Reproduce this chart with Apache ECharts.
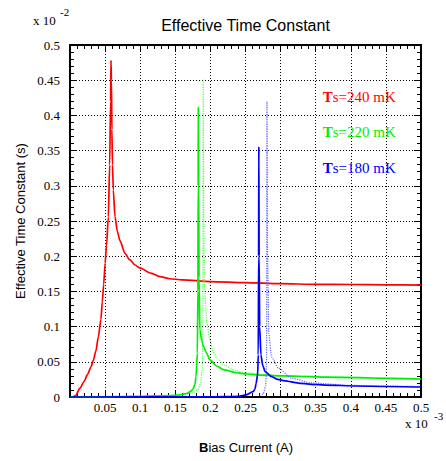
<!DOCTYPE html>
<html>
<head>
<meta charset="utf-8">
<script src="https://cdn.jsdelivr.net/npm/echarts@6/dist/echarts.min.js"></script>
<style>html,body{margin:0;padding:0;background:#fff;}#c{width:446px;height:461px;}</style>
</head>
<body>
<div id="c"></div>
<script>
// Tick values (x in 1e-3 A, y in 1e-2 s)
var xTicks = [0, 0.05, 0.1, 0.15, 0.2, 0.25, 0.3, 0.35, 0.4, 0.45, 0.5];
var yTicks = [0, 0.05, 0.1, 0.15, 0.2, 0.25, 0.3, 0.35, 0.4, 0.45, 0.5];

// Ts = 240 mK (solid red)
var ts240 = [[0.004,0],[0.008,0.002],[0.0142,0.0125],[0.02,0.022],[0.025,0.032],[0.03,0.043],[0.0332,0.052],[0.037,0.066],[0.0403,0.085],[0.044,0.11],[0.046,0.135],[0.048,0.16],[0.05,0.19],[0.052,0.215],[0.0546,0.256],[0.0565,0.33],[0.0578,0.42],[0.0584,0.478],[0.059,0.45],[0.0597,0.38],[0.0605,0.33],[0.0617,0.294],[0.0641,0.256],[0.0675,0.235],[0.0712,0.222],[0.0783,0.204],[0.085,0.195],[0.0926,0.1875],[0.1,0.183],[0.115,0.176],[0.128,0.171],[0.142,0.168],[0.16,0.1665],[0.2,0.164],[0.25,0.1625],[0.3,0.161],[0.35,0.16],[0.4,0.1598],[0.45,0.1592],[0.5,0.159]];

// Ts = 220 mK (solid and dotted green)
var ts220 = [[0,0],[0.05,0.0003],[0.08,0.0008],[0.1,0.001],[0.12,0.0015],[0.14,0.002],[0.157,0.003],[0.166,0.005],[0.172,0.008],[0.1757,0.012],[0.178,0.018],[0.1795,0.029],[0.1814,0.062],[0.1822,0.15],[0.1826,0.3],[0.1828,0.412],[0.1833,0.3],[0.1838,0.17],[0.185,0.095],[0.1876,0.081],[0.19,0.072],[0.1947,0.062],[0.1994,0.0526],[0.209,0.044],[0.2184,0.039],[0.2374,0.0345],[0.2517,0.0327],[0.275,0.031],[0.303,0.030],[0.342,0.0289],[0.363,0.0282],[0.408,0.0275],[0.45,0.0265],[0.5,0.0256]];
var ts220b = [[0.16,0.003],[0.175,0.006],[0.182,0.01],[0.186,0.02],[0.1885,0.04],[0.1893,0.1],[0.1897,0.45],[0.1905,0.25],[0.1918,0.15],[0.195,0.105],[0.199,0.082],[0.204,0.064],[0.21,0.054],[0.22,0.045],[0.235,0.038],[0.25,0.0345],[0.28,0.0318],[0.3,0.0306],[0.35,0.0292],[0.4,0.0281],[0.45,0.027],[0.5,0.026]];

// Ts = 180 mK (solid and dotted blue)
var ts180 = [[0,0],[0.2,0.0003],[0.24,0.001],[0.251,0.003],[0.2607,0.0075],[0.2635,0.011],[0.265,0.019],[0.2673,0.032],[0.2682,0.06],[0.2687,0.2],[0.269,0.3555],[0.2694,0.2],[0.2702,0.1],[0.272,0.06],[0.2745,0.045],[0.278,0.036],[0.287,0.029],[0.296,0.025],[0.306,0.023],[0.325,0.0198],[0.344,0.018],[0.363,0.017],[0.408,0.0156],[0.45,0.0149],[0.5,0.0142]];
var ts180b = [[0.27,0.002],[0.275,0.004],[0.2787,0.015],[0.28,0.05],[0.2806,0.4195],[0.2814,0.2],[0.2832,0.09],[0.287,0.057],[0.2968,0.041],[0.3158,0.0265],[0.344,0.02],[0.4,0.0165],[0.45,0.0155],[0.5,0.0148]];

// Annotation labels (data coordinates)
var labelTexts = ['Ts=240 mK', 'Ts=220 mK', 'Ts=180 mK'];
var labelColors = ['#ff0000', '#00ee00', '#0000ff'];
var labelPos = [[0.36, 0.426], [0.36, 0.376], [0.36, 0.325]];

var serif = '"Liberation Serif","DejaVu Serif",serif';
var sans = '"Liberation Sans","DejaVu Sans",sans-serif';

function fmt(v, showZero) {
  if (v === 0) return showZero ? '0' : '';
  return String(Math.round(v * 100) / 100);
}

function axisCommon(pos, showLabel, showZero) {
  return {
    type: 'value', position: pos, min: xTicks[0], max: xTicks[xTicks.length - 1], interval: 0.05,
    axisLine: { show: true, onZero: false, lineStyle: { color: '#000', width: 2 } },
    axisTick: { show: true, inside: true, length: 7, lineStyle: { color: '#000', width: 1 } },
    minorTick: { show: true, splitNumber: 5, length: 4, lineStyle: { color: '#000', width: 1 } },
    splitLine: { show: showLabel, lineStyle: { color: '#000', width: 1, type: [1, 2] } },
    axisLabel: { show: showLabel, color: '#000', fontFamily: serif, fontSize: 13,
      formatter: function (v) { return fmt(v, showZero); } }
  };
}

var chart = echarts.init(document.getElementById('c'), null, { renderer: 'svg' });

var xBottom = axisCommon('bottom', true, false); xBottom.axisLabel.margin = 4;
var xTop = axisCommon('top', false, false);
var yLeft = axisCommon('left', true, true); yLeft.axisLabel.margin = 10;
yLeft.min = yTicks[0]; yLeft.max = yTicks[yTicks.length - 1];
var yRight = axisCommon('right', false, false);
yRight.min = yTicks[0]; yRight.max = yTicks[yTicks.length - 1];

function lineSeries(data, color, width, dotted, z) {
  return {
    type: 'line', data: data, xAxisIndex: 0, yAxisIndex: 0, showSymbol: false, symbol: 'none',
    z: z, clip: true, smooth: 0.25, smoothMonotone: 'x',
    lineStyle: { color: color, width: width, type: dotted ? [1.2, 1.2] : 'solid' }
  };
}

chart.setOption({
  animation: false,
  backgroundColor: '#fff',
  grid: { left: 70, right: 25, top: 45, bottom: 64, containLabel: false },
  xAxis: [xBottom, xTop],
  yAxis: [yLeft, yRight],
  series: [
    lineSeries(ts240, '#ff0000', 1.7, false, 3),
    lineSeries(ts220b, '#55ff55', 1.2, true, 3),
    lineSeries(ts220, '#00ee00', 1.7, false, 4),
    lineSeries(ts180b, '#6666ff', 1.2, true, 5),
    lineSeries(ts180, '#0000ff', 1.7, false, 6)
  ]
});

var graphics = [
  { type: 'text', x: 245.5, y: 25.5, style: { text: 'Effective Time Constant', font: '16px ' + sans, fill: '#000', align: 'center', verticalAlign: 'middle', textAlign: 'center', textVerticalAlign: 'middle' } },
  { type: 'text', x: 20, y: 221, rotation: Math.PI / 2, style: { text: 'Effective Time Constant (s)', font: '13px ' + sans, fill: '#000', align: 'center', verticalAlign: 'middle', textAlign: 'center', textVerticalAlign: 'middle' } },
  { type: 'text', x: 246, y: 447, style: { text: '{b|B}ias Current (A)', font: '13px ' + sans, fill: '#000', align: 'center', verticalAlign: 'middle', textAlign: 'center', textVerticalAlign: 'middle', rich: { b: { fontWeight: 'bold', fontFamily: sans, fontSize: 13 } } } },
  { type: 'text', x: 33, y: 20, style: { text: 'x 10', font: '13px ' + serif, fill: '#000', verticalAlign: 'middle', textVerticalAlign: 'middle' } },
  { type: 'text', x: 60, y: 12, style: { text: '-2', font: '11px ' + serif, fill: '#000', verticalAlign: 'middle', textVerticalAlign: 'middle' } },
  { type: 'text', x: 405, y: 423, style: { text: 'x 10', font: '13px ' + serif, fill: '#000', verticalAlign: 'middle', textVerticalAlign: 'middle' } },
  { type: 'text', x: 434, y: 416, style: { text: '-3', font: '11px ' + serif, fill: '#000', verticalAlign: 'middle', textVerticalAlign: 'middle' } }
];
for (var i = 0; i < labelTexts.length; i++) {
  var p = chart.convertToPixel({ xAxisIndex: 0, yAxisIndex: 0 }, labelPos[i]);
  var t = labelTexts[i];
  graphics.push({ type: 'text', x: p[0], y: p[1], z: 10, style: {
    text: '{b|' + t.charAt(0) + '}' + t.slice(1), font: '15px ' + serif, fill: labelColors[i],
    verticalAlign: 'middle', textVerticalAlign: 'middle',
    rich: { b: { fontWeight: 'bold', fontFamily: serif, fontSize: 15, fill: labelColors[i], color: labelColors[i] } } } });
}
chart.setOption({ graphic: graphics });
</script>
</body>
</html>
